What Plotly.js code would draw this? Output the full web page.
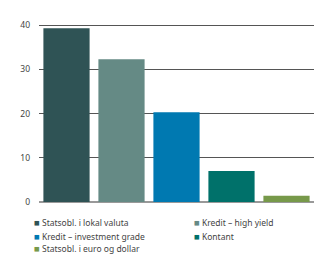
<!DOCTYPE html>
<html><head><meta charset="utf-8">
<script src="https://cdn.plot.ly/plotly-3.0.1.min.js"></script>
<style>html,body{margin:0;padding:0;background:#fff}#chart{width:319px;height:255px}</style>
</head><body><div id="chart"></div>
<script>
const categories = ["Statsobl. i lokal valuta","Kredit – high yield","Kredit – investment grade","Kontant","Statsobl. i euro og dollar"];
const values = [39.3, 32.3, 20.3, 7.0, 1.4];
const colors = ["#2f5355","#658a85","#0079b1","#00716a","#77994a"];
const yTicks = [0,10,20,30,40];

const legendPos = [[-0.025,-0.117],[0.555,-0.117],[-0.025,-0.19],[0.555,-0.19],[-0.025,-0.262]];
const annotations = categories.map((c,i)=>({
  xref:'paper', yref:'paper', x:legendPos[i][0], y:legendPos[i][1],
  xanchor:'left', yanchor:'middle', showarrow:false,
  text:'<span style="color:'+colors[i]+';font-size:9.5px">■</span> '+c,
  font:{family:'Noto Sans, sans-serif', size:8.5, color:'#444'}
}));

Plotly.newPlot('chart',[{
  type:'bar', x:categories, y:values, marker:{color:colors}, showlegend:false, hoverinfo:'none'
}],{
  width:319, height:255,
  margin:{l:39, r:5, t:23, b:53},
  bargap:0.16,
  paper_bgcolor:'#fff', plot_bgcolor:'#fff',
  xaxis:{showticklabels:false, showgrid:false, zeroline:false, ticks:''},
  yaxis:{range:[0,40.5], tickvals:yTicks, ticktext:yTicks.map(String), showgrid:true, gridcolor:'#555', gridwidth:1,
    zeroline:true, zerolinecolor:'#999', zerolinewidth:2, ticks:'', ticklabelstandoff:8,
    tickfont:{family:'Noto Sans, sans-serif', size:8.5, color:'#444'}},
  annotations:annotations
},{staticPlot:true});
</script></body></html>
